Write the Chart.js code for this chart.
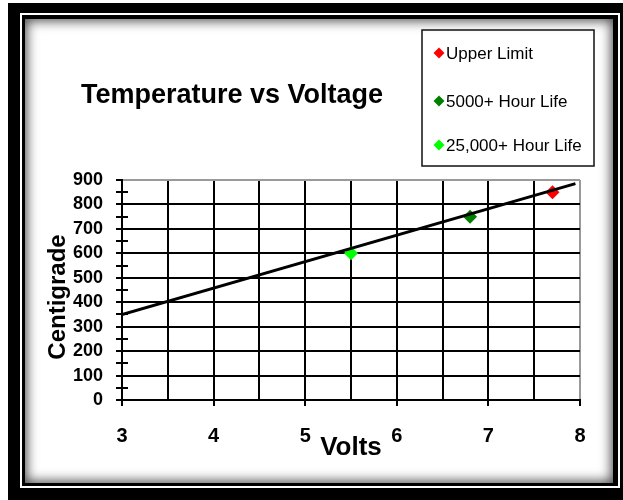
<!DOCTYPE html>
<html>
<head>
<meta charset="utf-8">
<title>Temperature vs Voltage</title>
<script src="https://cdn.jsdelivr.net/npm/chart.js@4.4.1/dist/chart.umd.min.js"></script>
<style>
	html, body { margin: 0; padding: 0; width: 623px; height: 500px; overflow: hidden; background: #fff; }
	.frame-outer { position: absolute; left: 8px; top: 3px; width: 615px; height: 497px; background: #000; }
	.frame-line  { position: absolute; left: 20px; top: 13px; width: 600px; height: 475px; border: 2px solid #fff; box-sizing: border-box; background: #000; }
	.frame-panel { position: absolute; left: 25px; top: 19px; width: 588px; height: 464px; background: #fff; box-shadow: inset 0 0 12px 2px rgba(0, 0, 0, 0.7); }
	#chart { position: absolute; left: 0; top: 0; }
</style>
</head>
<body>
<div class="frame-outer"></div>
<div class="frame-line"></div>
<div class="frame-panel"></div>
<canvas id="chart" width="623" height="500"></canvas>

<script>
/*
 * Data
 */
var SERIES_LABELS = ['Upper Limit', '5000+ Hour Life', '25,000+ Hour Life'];
var SERIES_VOLTS  = [7.7, 6.8, 5.5];
var SERIES_TEMPS  = [850, 750, 600];

// hand drawn trend line (end points)
var TREND_VOLTS = [3, 7.95];
var TREND_TEMPS = [350, 885];

var X_LABELS = ['3', '4', '5', '6', '7', '8'];
var Y_LABELS = ['0', '100', '200', '300', '400', '500', '600', '700', '800', '900'];

var CHART_TITLE = 'Temperature vs Voltage';
var X_TITLE     = 'Volts';
var Y_TITLE     = 'Centigrade';

(function () {
	'use strict';

	var FONT_FAMILY = "'Liberation Sans', Arial, Helvetica, sans-serif";

	var COLORS = {
		series: ['#ff0000', '#008000', '#00ff00'],
		black:  '#000000',
		border: '#9a9a9a',
	};

	Chart.defaults.font.family = FONT_FAMILY;
	Chart.defaults.color       = COLORS.black;

	/*
	 * Datasets
	 */
	var datasets = SERIES_LABELS.map(function (label, i) {
		return {
			label:           label,
			data:            [{ x: SERIES_VOLTS[i], y: SERIES_TEMPS[i] }],
			pointStyle:      'rectRot',
			pointRadius:     7,
			pointHoverRadius: 7,
			backgroundColor: COLORS.series[i],
			borderColor:     COLORS.series[i],
			borderWidth:     0,
			order:           1,
		};
	});

	datasets.push({
		label:       '',
		trend:       true,
		data:        TREND_VOLTS.map(function (v, i) { return { x: v, y: TREND_TEMPS[i] }; }),
		showLine:    true,
		borderColor: COLORS.black,
		borderWidth: 3,
		pointRadius: 0,
		order:       0,
	});

	function isInt(v) {
		return Math.abs(v - Math.round(v)) < 1e-9;
	}

	/*
	 * Plugin: title, axis titles, legend box, minor y ticks
	 */
	var decorPlugin = {
		id: 'decor',
		afterDraw: function (chart) {
			var ctx = chart.ctx;
			var xs  = chart.scales.x;
			var ys  = chart.scales.y;

			ctx.save();
			ctx.fillStyle = COLORS.black;

			// Chart title.
			ctx.font         = 'bold 27px ' + FONT_FAMILY;
			ctx.textAlign    = 'center';
			ctx.textBaseline = 'middle';
			ctx.fillText(CHART_TITLE, 232, 96);

			// X axis title.
			ctx.font = 'bold 26px ' + FONT_FAMILY;
			ctx.fillText(X_TITLE, 351, 448);

			// Y axis title.
			ctx.save();
			ctx.translate(58, 297);
			ctx.rotate(-Math.PI / 2);
			ctx.font = 'bold 24px ' + FONT_FAMILY;
			ctx.fillText(Y_TITLE, 0, 0);
			ctx.restore();

			// Minor y ticks cross the axis.
			ctx.strokeStyle = COLORS.black;
			ctx.lineWidth   = 2;
			ys.ticks.forEach(function (t) {
				if (t.value % 100 === 0) return;
				var py = Math.round(ys.getPixelForValue(t.value));
				ctx.beginPath();
				ctx.moveTo(xs.left, py);
				ctx.lineTo(xs.left + 6, py);
				ctx.stroke();
			});

			// Legend box.
			var box = { left: 422, top: 30, right: 594, bottom: 166 };
			ctx.lineWidth   = 1.5;
			ctx.strokeStyle = '#111';
			ctx.strokeRect(box.left, box.top, box.right - box.left, box.bottom - box.top);

			var rowsY = [53, 101, 145];
			ctx.font         = '17px ' + FONT_FAMILY;
			ctx.textAlign    = 'left';
			ctx.textBaseline = 'middle';
			chart.data.datasets.forEach(function (ds, i) {
				if (ds.trend) return;
				var cy = rowsY[i];
				var cx = 439;
				ctx.fillStyle = ds.backgroundColor;
				ctx.beginPath();
				ctx.moveTo(cx, cy - 5.5);
				ctx.lineTo(cx + 5.5, cy);
				ctx.lineTo(cx, cy + 5.5);
				ctx.lineTo(cx - 5.5, cy);
				ctx.closePath();
				ctx.fill();
				ctx.fillStyle = COLORS.black;
				ctx.fillText(ds.label, 446, cy + 1);
			});

			ctx.restore();
		},
	};

	/*
	 * Chart
	 */
	new Chart(document.getElementById('chart'), {
		type: 'scatter',
		data: { datasets: datasets },
		options: {
			responsive: false,
			animation:  false,
			layout: {
				padding: { left: 62, right: 43, top: 180, bottom: 40 },
			},
			plugins: {
				legend:  { display: false },
				title:   { display: false },
				tooltip: { enabled: false },
			},
			scales: {
				x: {
					type: 'linear',
					min:  3,
					max:  8,
					afterFit: function (scale) { scale.height = 60; },
					ticks: {
						stepSize:    0.5,
						autoSkip:    false,
						maxRotation: 0,
						padding:     18,
						color:       COLORS.black,
						font:        { size: 20, weight: 'bold' },
						callback: function (v) {
							return X_LABELS.indexOf(String(v)) >= 0 ? String(v) : '';
						},
					},
					grid: {
						lineWidth:  2,
						tickLength: 6,
						color: function (c) {
							return c.tick && c.tick.value === 8 ? COLORS.border : COLORS.black;
						},
						tickColor: function (c) {
							return c.tick && isInt(c.tick.value) ? COLORS.black : 'transparent';
						},
					},
					border: { color: COLORS.black, width: 2 },
				},
				y: {
					min: 0,
					max: 900,
					afterFit: function (scale) { scale.width = 60; },
					ticks: {
						stepSize: 50,
						autoSkip: false,
						padding:  13,
						color:    COLORS.black,
						font:     { size: 18, weight: 'bold' },
						callback: function (v) {
							return Y_LABELS.indexOf(String(v)) >= 0 ? String(v) : '';
						},
					},
					grid: {
						lineWidth:  2,
						tickLength: 6,
						tickColor:  COLORS.black,
						color: function (c) {
							if (!c.tick || c.tick.value % 100 !== 0) return 'transparent';
							return c.tick.value === 900 ? COLORS.border : COLORS.black;
						},
					},
					border: { color: COLORS.black, width: 2 },
				},
			},
		},
		plugins: [decorPlugin],
	});
})();
</script>
</body>
</html>
